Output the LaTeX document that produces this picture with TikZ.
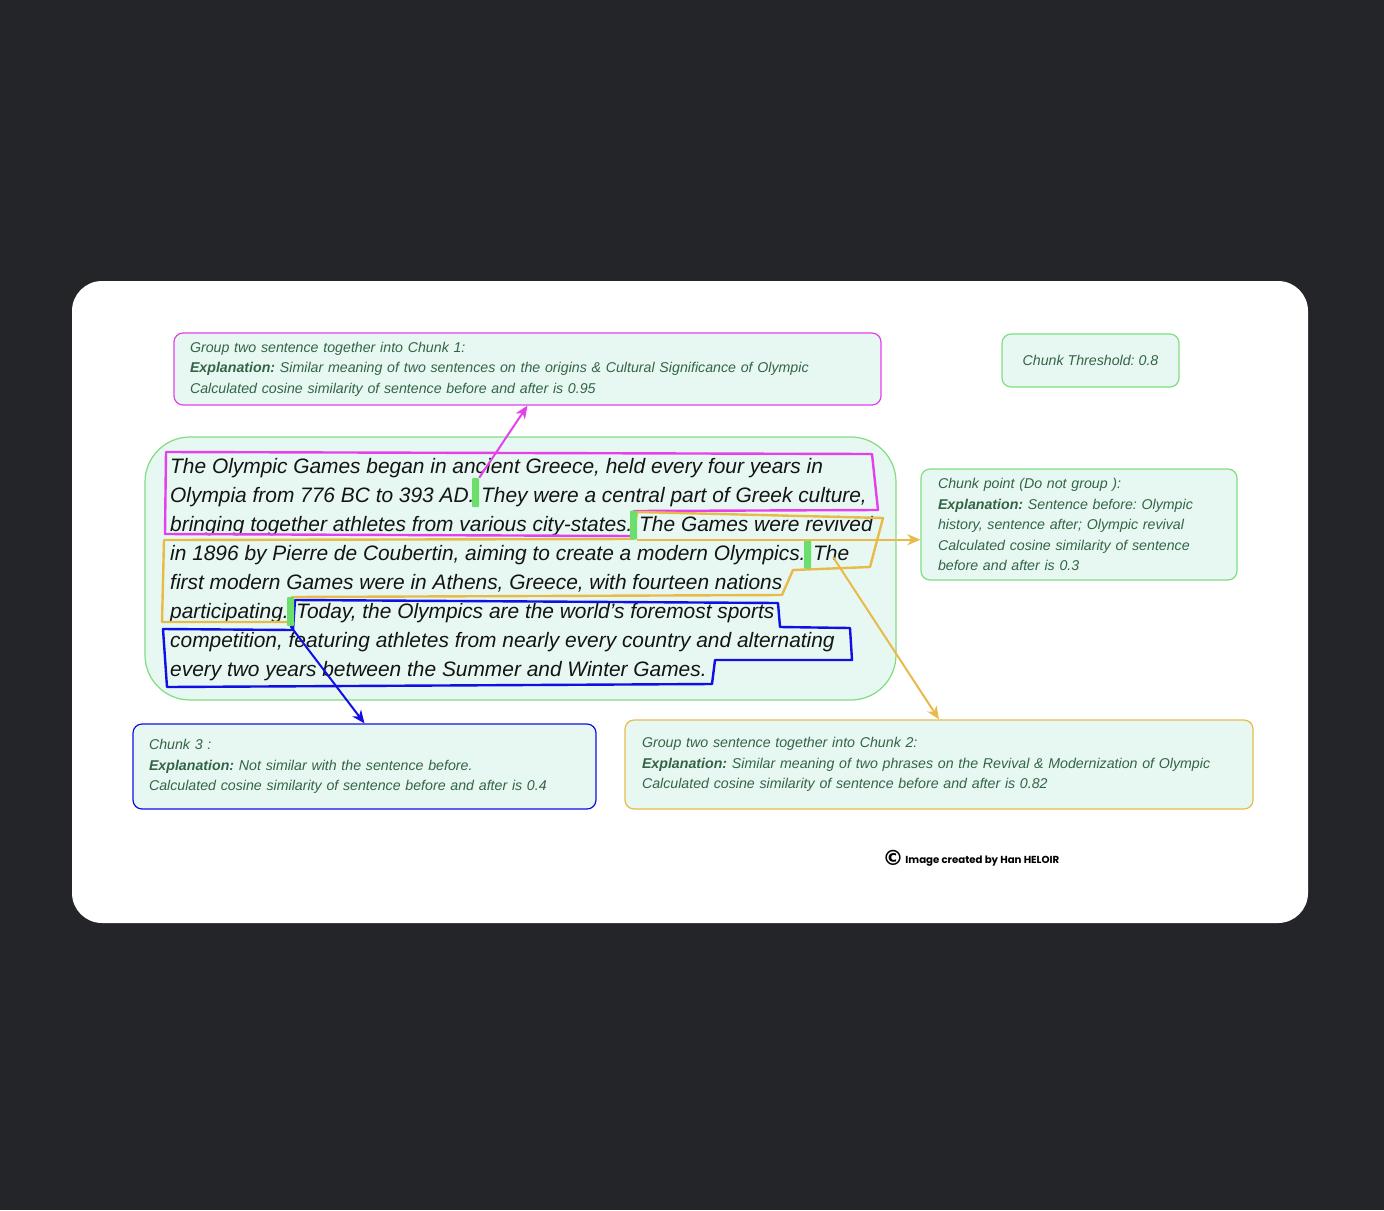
\documentclass[tikz,border=0pt]{standalone}
\usepackage{fontspec}
\setmainfont{Liberation Sans}
\newfontfamily\creditfont{Poppins}
\newfontfamily\symfont{DejaVu Sans}
\usetikzlibrary{positioning,arrows.meta}
\frenchspacing
\definecolor{bgdark}{RGB}{36,37,41}
\definecolor{mint}{RGB}{231,248,243}
\definecolor{boxgreen}{RGB}{128,222,128}
\definecolor{markgreen}{RGB}{108,222,108}
\definecolor{notegreen}{RGB}{52,100,70}
\definecolor{inkblack}{RGB}{20,20,20}
\definecolor{pinkline}{RGB}{228,64,236}
\definecolor{goldline}{RGB}{232,186,74}
\definecolor{blueline}{RGB}{16,16,228}
\begin{document}
\begin{tikzpicture}[x=1pt,y=-1pt,>={Stealth[length=13pt,width=11pt,inset=4pt]},
  every node/.style={inner sep=0pt},
  note/.style={draw=boxgreen,fill=mint,rounded corners=9pt,line width=1.2pt,align=left,
    font=\fontsize{14.2}{20.5}\selectfont\itshape,text=notegreen,inner xsep=16pt},
  passline/.style={anchor=base west,font=\fontsize{20.9}{29}\selectfont\itshape,text=inkblack},
  cut/.style={fill=markgreen,minimum width=7pt,minimum height=29pt,rounded corners=1pt},
  chunk/.style={line width=2.4pt,line join=round},
  link/.style={->,line width=2pt}]
 % backdrop and card
 \fill[bgdark] (0,0) rectangle (1384,1210);
 \fill[white,rounded corners=30pt] (72,281) rectangle (1308,923);

 % notes
 \node[note,draw=pinkline,minimum width=707pt,minimum height=72pt,text width=675pt] (chunkA) at (527.5,369)
  {Group two sentence together into Chunk 1:\\
   \textbf{Explanation:} Similar meaning of two sentences on the origins \& Cultural Significance of Olympic\\
   Calculated cosine similarity of sentence before and after is 0.95};
 \node[note,minimum width=177pt,minimum height=53pt] (thresh) at (1090.5,360.5) {Chunk Threshold: 0.8};
 \node[note,minimum width=316pt,minimum height=111pt,text width=282pt,inner xsep=17pt] (chunkP) at (1079,524.5)
  {Chunk point (Do not group ):\\
   \textbf{Explanation:} Sentence before: Olympic\\
   history, sentence after; Olympic revival\\
   Calculated cosine similarity of sentence\\
   before and after is 0.3};
 \node[note,draw=blueline,minimum width=463pt,minimum height=85pt,text width=431pt] (chunkC) at (364.5,766.5)
  {Chunk 3 :\\
   \textbf{Explanation:} Not similar with the sentence before.\\
   Calculated cosine similarity of sentence before and after is 0.4};
 \node[note,draw=goldline,minimum width=628pt,minimum height=89pt,text width=594pt,inner xsep=17pt] (chunkB) at (939,764.5)
  {Group two sentence together into Chunk 2:\\
   \textbf{Explanation:} Similar meaning of two phrases on the Revival \& Modernization of Olympic\\
   Calculated cosine similarity of sentence before and after is 0.82};

 % passage
 \node[draw=boxgreen,fill=mint,line width=1.2pt,rounded corners=45pt,minimum width=751pt,minimum height=263pt] (passage) at (520.5,568.5) {};
 \node[passline] (l1) at (170,473) {The Olympic Games began in ancient Greece, held every four years in};
 \node[passline] (l2a) at (170,502) {Olympia from 776 BC to 393 AD.};
 \node[passline] (l2b) at (481,502) {They were a central part of Greek culture,};
 \node[passline] (l3a) at (170,531) {bringing together athletes from various city-states.};
 \node[passline] (l3b) at (639,531) {The Games were revived};
 \node[passline] (l4a) at (170,560) {in 1896 by Pierre de Coubertin, aiming to create a modern Olympics.};
 \node[passline] (l4b) at (813,560) {The};
 \node[passline] (l5) at (170,589) {first modern Games were in Athens, Greece, with fourteen nations};
 \node[passline] (l6a) at (170,618) {participating.};
 \node[passline] (l6b) at (296,618) {Today, the Olympics are the world's foremost sports};
 \node[passline] (l7) at (170,647) {competition, featuring athletes from nearly every country and alternating};
 \node[passline] (l8) at (170,676) {every two years between the Summer and Winter Games.};

 % chunk outlines
 \draw[chunk,pinkline] (166,452) -- (872,454) -- (878,510) -- (634,511) -- (631,536) -- (165,534) -- cycle;
 \draw[chunk,goldline] (637,512) -- (883,518) -- (870,567) -- (793,570) -- (782,595) -- (292,597)
   -- (288,622) -- (162,622) -- (164,540) -- (633,539) -- cycle;
 \draw[chunk,blueline] (295,600) -- (778,603) -- (780,627) -- (850,628) -- (852,660) -- (715,660)
   -- (712,684) -- (167,687) -- (163,629) -- (293,630) -- cycle;

 % chunk points
 \node[cut] (m1) at (475.5,492.5) {};
 \node[cut] (m2) at (633.5,525) {};
 \node[cut] (m3) at (807.5,554) {};
 \node[cut] (m4) at (290.5,611.5) {};
 \coordinate (p3) at (833,557);

 \draw[link,pinkline] (m1.north east) -- (chunkA.south);
 \draw[link,goldline] (m2.south east) -- (m2.south east -| chunkP.west);
 \draw[link,goldline] (p3) -- (chunkB.north);
 \draw[link,blueline] (m4.south) -- (chunkC.north);

 \node[font=\creditfont\bfseries\fontsize{10.2}{11}\selectfont] (credit) at (971,858)
  {{\symfont\fontsize{21}{21}\selectfont\raisebox{-2pt}{\char"00A9}}\,Image created by Han HELOIR};
\end{tikzpicture}
\end{document}
